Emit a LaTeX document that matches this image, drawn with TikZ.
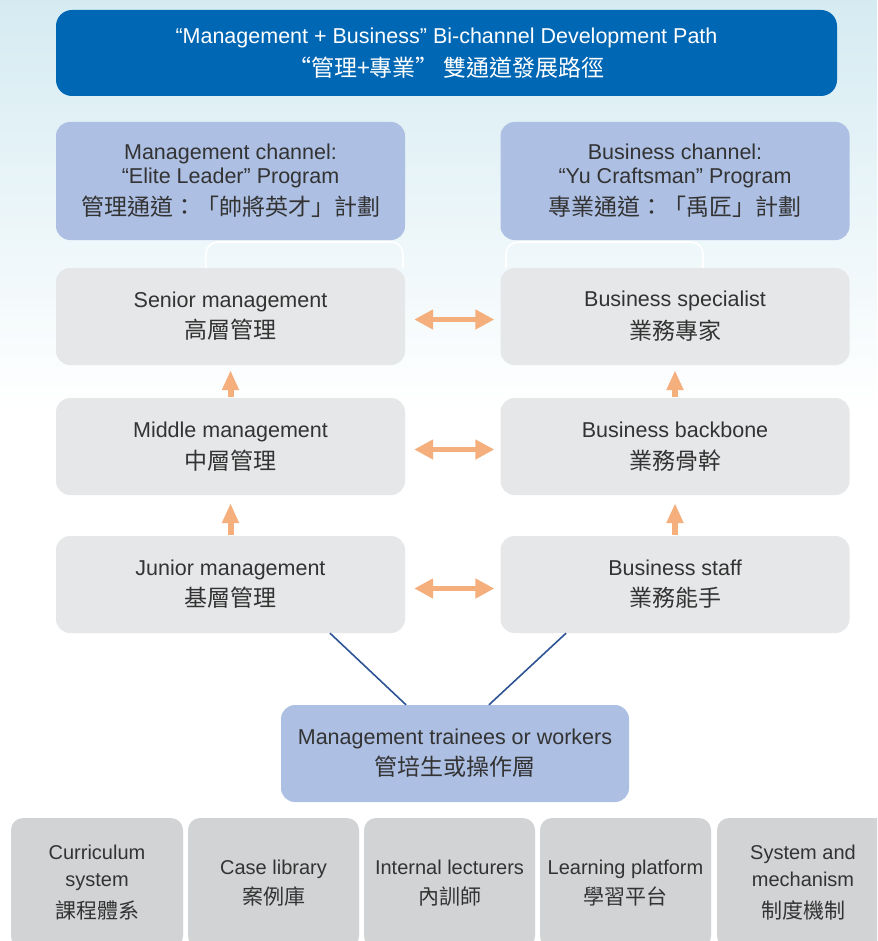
\documentclass[tikz,border=0pt]{standalone}
\usepackage{fontspec}
\setmainfont{Liberation Sans}
\newfontfamily\cjkfont{Noto Sans CJK TC}
\usetikzlibrary{arrows.meta}

\definecolor{bannerblue}{HTML}{0067B4}
\definecolor{chanblue}{HTML}{ADBFE3}
\definecolor{rankgray}{HTML}{E6E7E8}
\definecolor{basegray}{HTML}{D1D3D4}
\definecolor{arroworange}{HTML}{F5AF7D}
\definecolor{linkblue}{HTML}{2E5496}
\definecolor{textgray}{HTML}{333333}
\definecolor{skytop}{HTML}{D5EBF2}
\definecolor{skymid}{HTML}{E8F4F8}

% Chinese lines keep the baseline skip of the surrounding node font
\newcommand{\zh}{\cjkfont\fontsize{23pt}{\baselineskip}\selectfont}
\newcommand{\zhs}{\cjkfont\fontsize{21pt}{\baselineskip}\selectfont}

\tikzset{
  titlebar/.style={fill=bannerblue, rounded corners=16pt, minimum width=781pt,
    minimum height=86pt, inner sep=0pt, text=white, align=center,
    font=\fontsize{21.5pt}{33pt}\selectfont},
  chanbox/.style={fill=chanblue, rounded corners=14pt, minimum width=349pt,
    minimum height=118pt, inner sep=0pt, text=textgray, align=center,
    font=\fontsize{21.5pt}{24pt}\selectfont},
  rankbox/.style={fill=rankgray, rounded corners=14pt, minimum width=349pt,
    minimum height=97pt, inner sep=0pt, text=textgray, align=center,
    font=\fontsize{21.5pt}{31pt}\selectfont},
  basebox/.style={fill=basegray, rounded corners=12pt, minimum width=172pt,
    minimum height=130pt, inner sep=0pt, text=textgray, align=center,
    font=\fontsize{20pt}{27pt}\selectfont},
  uparrow/.style={draw=arroworange, line width=6pt,
    -{Triangle[width=16pt,length=20pt]}},
  sidearrow/.style={draw=arroworange, line width=5.5pt,
    {Triangle[width=19pt,length=19pt]}-{Triangle[width=19pt,length=19pt]}},
  linkline/.style={draw=linkblue, line width=1.6pt},
  bracketline/.style={draw=white, line width=1.6pt, rounded corners=12pt},
}

\begin{document}
\begin{tikzpicture}[x=1pt, y=-1pt]
\useasboundingbox (0,0) rectangle (877,941);
\clip (0,0) rectangle (877,941);

% sky backdrop fading to white
\fill[white] (0,0) rectangle (877,941);
\shade[top color=skytop, middle color=skymid, bottom color=white]
  (0,0) rectangle (877,410);

% title bar
\node[titlebar] (title) at (446.5,53)
  {“Management + Business” Bi-channel Development Path\\
   \zh “管理+專業” 雙通道發展路徑};

% channel headers
\node[chanbox] (ch1) at (230.5,181)
  {Management channel:\\“Elite Leader” Program\\[8pt]
   \zh 管理通道：「帥將英才」計劃};
\node[chanbox] (ch2) at (675,181)
  {Business channel:\\“Yu Craftsman” Program\\[8pt]
   \zh 專業通道：「禹匠」計劃};

% white brackets linking headers to the top ranks
\draw[bracketline] ([xshift=150pt]ch1.south west |- 0,268) -- ++(0,-26) -| (403,268);
\draw[bracketline] (506,268) -- ++(0,-26) -| (703,268);

% rank ladders
\node[rankbox] (sen1) at (230.5,316.5) {Senior management\\\zh 高層管理};
\node[rankbox] (sen2) at (675,316.5) {Business specialist\\[2pt]\zh 業務專家};
\node[rankbox] (mid1) at (230.5,446.5) {Middle management\\[1pt]\zh 中層管理};
\node[rankbox] (mid2) at (675,446.5) {Business backbone\\[1pt]\zh 業務骨幹};
\node[rankbox] (jun1) at (230.5,584.5) {Junior management\\\zh 基層管理};
\node[rankbox] (jun2) at (675,584.5) {Business staff\\\zh 業務能手};

% promotion arrows
\draw[uparrow] ([yshift=1pt]mid1.north) -- ([yshift=-5pt]sen1.south);
\draw[uparrow] ([yshift=1pt]mid2.north) -- ([yshift=-5pt]sen2.south);
\draw[uparrow] ([yshift=1pt]jun1.north) -- ([yshift=-8pt]mid1.south);
\draw[uparrow] ([yshift=1pt]jun2.north) -- ([yshift=-8pt]mid2.south);

% cross-channel arrows
\draw[sidearrow] ([xshift=9pt,yshift=-3pt]sen1.east) -- ([xshift=-6pt,yshift=-3pt]sen2.west);
\draw[sidearrow] ([xshift=9pt,yshift=-3pt]mid1.east) -- ([xshift=-6pt,yshift=-3pt]mid2.west);
\draw[sidearrow] ([xshift=9pt,yshift=-4pt]jun1.east) -- ([xshift=-6pt,yshift=-4pt]jun2.west);

% entry level
\node[chanbox, minimum width=348pt, minimum height=97pt,
      font=\fontsize{21.5pt}{31pt}\selectfont] (tr) at (455,753.5)
  {Management trainees or workers\\\zh 管培生或操作層};
\draw[linkline] ([xshift=99.5pt]jun1.south) -- ([xshift=-49pt]tr.north);
\draw[linkline] ([xshift=-109pt]jun2.south) -- ([xshift=34pt]tr.north);

% supporting foundations
\node[basebox] (b1) at (97,883) {Curriculum\\system\\[5pt]\zhs 課程體系};
\node[basebox, minimum width=171pt] (b2) at (273.5,883) {Case library\\[3pt]\zhs 案例庫};
\node[basebox, minimum width=171pt] (b3) at (449.5,883) {Internal lecturers\\[3pt]\zhs 內訓師};
\node[basebox, minimum width=171pt] (b4) at (625.5,883) {Learning platform\\[3pt]\zhs 學習平台};
\node[basebox] (b5) at (803,883) {System and\\mechanism\\[5pt]\zhs 制度機制};
\end{tikzpicture}
\end{document}
